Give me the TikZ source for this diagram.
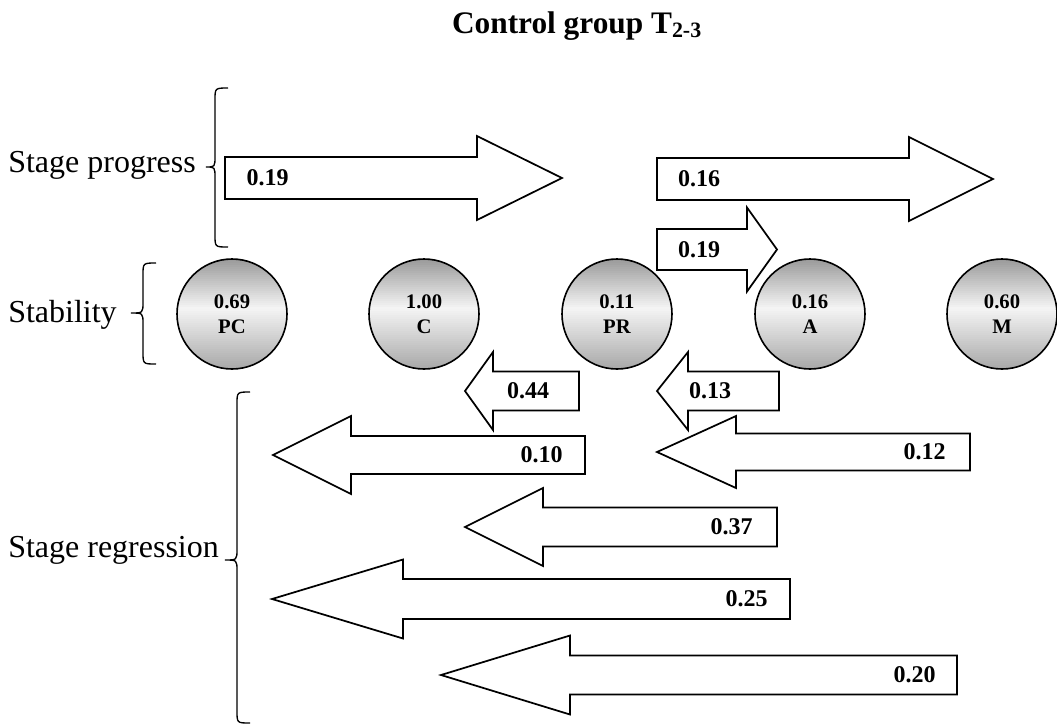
\documentclass[tikz,border=0pt]{standalone}
\usepackage{fontspec}
\setmainfont{Liberation Serif}

% Block arrow pointing right: name, left x, centre y, head base x, tip x,
% shaft half height, head half height, label, label centre x
\newcommand{\ProgArrow}[9]{%
  \draw[blockarrow] (#2,#3-#6) -- (#4,#3-#6) -- (#4,#3-#7) -- (#5,#3)
    -- (#4,#3+#7) -- (#4,#3+#6) -- (#2,#3+#6) -- cycle;
  \node[arrowlabel] (#1) at (#9,#3) {#8};
}
% Block arrow pointing left: name, tip x, centre y, head base x, right x,
% shaft half height, head half height, label, label centre x
\newcommand{\RegArrow}[9]{%
  \draw[blockarrow] (#2,#3) -- (#4,#3-#7) -- (#4,#3-#6) -- (#5,#3-#6)
    -- (#5,#3+#6) -- (#4,#3+#6) -- (#4,#3+#7) -- cycle;
  \node[arrowlabel] (#1) at (#9,#3) {#8};
}
% Curly brace opening to the right: hook x, stem x, tip x, top y, middle y, bottom y
\newcommand{\SideBrace}[6]{%
  \draw[bracestyle] (#1,#4) .. controls (#2,#4) .. (#2,#4+12) -- (#2,#5-11)
    .. controls (#2,#5) .. (#3,#5) .. controls (#2,#5) .. (#2,#5+11)
    -- (#2,#6-12) .. controls (#2,#6) .. (#1,#6);
}
% Stage disc: grey-white-grey vertical gradient, outline and two-line label
% name, centre x, centre y, value, stage
\newcommand{\StageDisc}[5]{%
  \begin{scope}
    \clip (#2,#3) circle[radius=55];
    \foreach \i in {0,...,54} {
      \pgfmathsetmacro\shadepos{(\i+0.5)/55}
      \pgfmathsetmacro\shadeval{4+36*max(0.45-\shadepos,0)/0.45+30*max(\shadepos-0.45,0)/0.55}
      \fill[black!\shadeval] (#2-57,#3-55+2*\i) rectangle (#2+57,#3-55+2*\i+2.6);
    }
  \end{scope}
  \node[stage] (#1) at (#2,#3) {#4\\#5};
}

\begin{document}
\begin{tikzpicture}[x=0.75pt,y=-0.75pt,
  blockarrow/.style={draw=black, fill=white, line width=1.3pt, line join=miter},
  arrowlabel/.style={font=\fontsize{18}{20}\selectfont\bfseries, inner sep=0pt},
  bracestyle/.style={draw=black, line width=1pt},
  stage/.style={circle, draw=black, line width=1.2pt, minimum size=82.5pt, inner sep=0pt,
    align=center, font=\fontsize{15.5}{18.5}\selectfont\bfseries},
  sidelabel/.style={font=\fontsize{24}{27}\selectfont, inner sep=0pt, anchor=base west},
]
\useasboundingbox (0,0) rectangle (1057,726);

% title
\node[font=\fontsize{23.5}{26}\selectfont\bfseries, anchor=base, inner sep=0pt] (title)
  at (577,33) {Control group T\textsubscript{2-3}};

% row labels and their braces
\node[sidelabel] (progress) at (8,172) {Stage progress};
\node[sidelabel] (stability) at (8,322) {Stability};
\node[sidelabel] (regression) at (8,557) {Stage regression};
\SideBrace{228}{215}{206}{88}{167}{247}
\SideBrace{156}{143}{131}{263}{313}{364}
\SideBrace{250}{237}{225}{392}{560}{723}

% stages
\StageDisc{PC}{232}{314}{0.69}{PC}
\StageDisc{C}{424}{314}{1.00}{C}
\StageDisc{PR}{617}{314}{0.11}{PR}
\StageDisc{A}{810}{314}{0.16}{A}
\StageDisc{M}{1002}{314}{0.60}{M}

% stage progress
\ProgArrow{p1}{225}{178}{477}{562}{21}{42}{0.19}{267.5}
\ProgArrow{p2}{657}{179}{909}{993}{21}{42}{0.16}{699}
\ProgArrow{p3}{657}{249.5}{747}{777}{20.5}{42}{0.19}{699}

% stage regression
\RegArrow{r1}{465}{391}{493}{579}{19.5}{39}{0.44}{528}
\RegArrow{r2}{657}{391}{688}{779}{19.5}{39}{0.13}{710}
\RegArrow{r3}{273}{455}{351}{585}{19}{39}{0.10}{541.5}
\RegArrow{r4}{657}{452}{736}{970}{18.5}{36}{0.12}{924.5}
\RegArrow{r5}{465}{527}{543}{777}{19.5}{39}{0.37}{731.5}
\RegArrow{r6}{272}{599}{403}{790}{20}{39.5}{0.25}{746.5}
\RegArrow{r7}{441}{675}{570}{957}{19.5}{39.5}{0.20}{914.5}
\end{tikzpicture}
\end{document}
